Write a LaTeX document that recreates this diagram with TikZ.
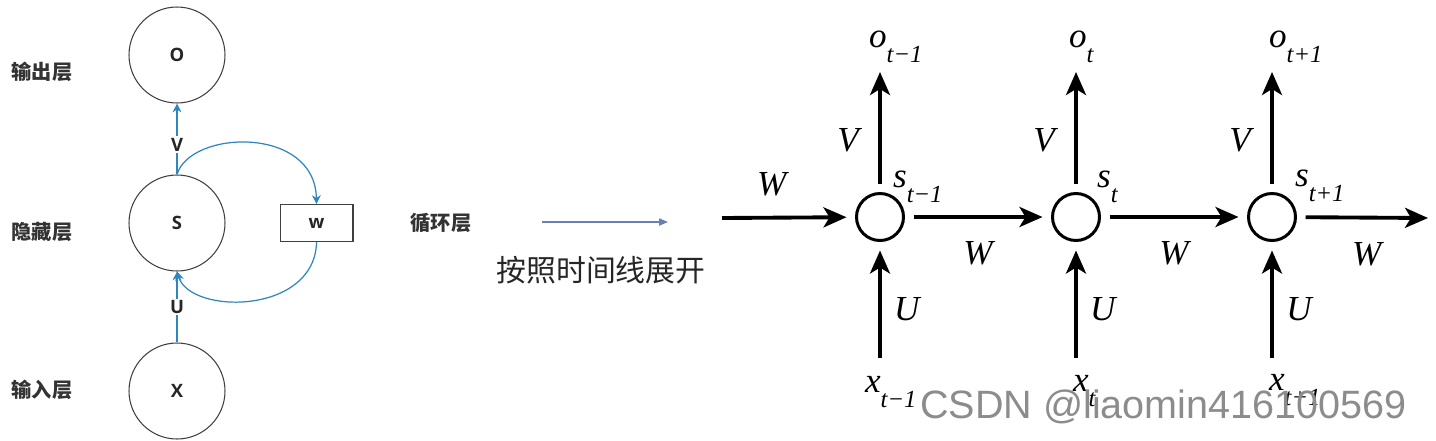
\documentclass[tikz,border=0pt]{standalone}
\usepackage{fontspec}
\setmainfont{Liberation Serif}
\newfontfamily\cjk{Noto Sans CJK SC}
\newfontfamily\lettersans{Open Sans}
\newfontfamily\markfont{Liberation Sans}
\usepackage{tikz}
\usetikzlibrary{arrows.meta, positioning}
\definecolor{loopblue}{RGB}{46,134,190}
\definecolor{unrollblue}{RGB}{105,128,182}
\newcommand{\tsub}[2]{\textit{#1}\raisebox{-9pt}{\fontsize{14}{14}\selectfont\textit{#2}}}

\begin{document}
\begin{tikzpicture}[x=0.02cm, y=-0.02cm,
  layer/.style={draw=black!75, circle, line width=0.6pt, minimum size=1.92cm, font=\lettersans\bfseries\fontsize{10.5}{12}\selectfont, text=black!85},
  tag/.style={font=\cjk\bfseries\fontsize{11.5}{13}\selectfont, text=black!80},
  link/.style={loopblue, line width=0.7pt, -{Stealth[length=5pt, width=5pt]}},
  cell/.style={draw, circle, line width=1.7pt, minimum size=0.94cm, outer sep=0.2cm},
  flow/.style={line width=2.2pt, -{Stealth[length=0.46cm, width=0.4cm, inset=0.12cm]}},
  sym/.style={font=\fontsize{20}{24}\selectfont\itshape, inner sep=1pt}]
  \useasboundingbox (0,0) rectangle (1436,440);

  \node (o) [layer] at (177,55) {O};
  \node (s) [layer] at (177,223) {S};
  \node (x) [layer] at (177,391) {X};
  \node (w) [draw=black!75, line width=0.6pt, minimum width=1.46cm, minimum height=0.74cm, font=\lettersans\bfseries\fontsize{10.5}{12}\selectfont, text=black!85, right=1.08cm of s] {w};
  \node (outtag) [tag] at (42,72) {输出层};
  \node (hidtag) [tag] at (42,232) {隐藏层};
  \node (intag) [tag] at (42,390) {输入层};

  \draw [link] (s) -- (o) node[pos=.42, fill=white, inner sep=1pt, text=black!85, font=\lettersans\bfseries\fontsize{10.5}{12}\selectfont] {V};
  \draw [link] (x) -- (s) node[pos=.5, fill=white, inner sep=1pt, text=black!85, font=\lettersans\bfseries\fontsize{10.5}{12}\selectfont] {U};
  \draw [link] (s.north) .. controls (190,130) and (315,125) .. (w.north);
  \draw [link] (w.south) .. controls (315,315) and (190,315) .. (s.south);

  \node (looptag) [tag] at (441,223) {循环层};
  \coordinate (ustart) at (542,222);
  \coordinate (uend) at (668,222);
  \draw [unrollblue, line width=0.8pt, -{Triangle[length=5pt, width=4pt]}] (ustart) -- (uend);
  \node (unroll) [font=\cjk\fontsize{17}{20}\selectfont, text=black!85] at (601,270) {按照时间线展开};

  \node (s1) [cell] at (880,217) {};
  \node (s2) [cell] at (1076,217) {};
  \node (s3) [cell] at (1272,217) {};
  \coordinate (win) at (722,218);
  \coordinate (wout) at (1428,218);
  \coordinate (ot1) at (880,72);
  \coordinate (ot2) at (1076,72);
  \coordinate (ot3) at (1272,72);
  \coordinate (xb1) at (880,358);
  \coordinate (xb2) at (1076,358);
  \coordinate (xb3) at (1272,358);

  \draw [flow] (win) -- (s1) node[sym, pos=.4, above=10pt] {W};
  \draw [flow] (s1) -- (s2) node[sym, midway, below=12pt] {W};
  \draw [flow] (s2) -- (s3) node[sym, midway, below=12pt] {W};
  \draw [flow] (s3) -- (wout) node[sym, midway, below=12pt] {W};

  \draw [flow] (s1) -- (ot1) node[sym, pos=.39, left=10pt] {V};
  \draw [flow] (s2) -- (ot2) node[sym, pos=.39, left=10pt] {V};
  \draw [flow] (s3) -- (ot3) node[sym, pos=.39, left=10pt] {V};
  \draw [flow] (xb1) -- (s1) node[sym, pos=.45, right=6pt] {U};
  \draw [flow] (xb2) -- (s2) node[sym, pos=.45, right=6pt] {U};
  \draw [flow] (xb3) -- (s3) node[sym, pos=.45, right=6pt] {U};

  \node (o1) [sym, anchor=base west] at (867,47) {\tsub{o}{t−1}};
  \node (o2) [sym, anchor=base west] at (1067,47) {\tsub{o}{t}};
  \node (o3) [sym, anchor=base west] at (1267,47) {\tsub{o}{t+1}};
  \node (s1tag) [sym, anchor=base west] at (891,187) {\tsub{s}{t−1}};
  \node (s2tag) [sym, anchor=base west] at (1095,187) {\tsub{s}{t}};
  \node (s3tag) [sym, anchor=base west] at (1293,186) {\tsub{s}{t+1}};
  \node (x1) [sym, anchor=base west] at (863,392) {\tsub{x}{t−1}};
  \node (x2) [sym, anchor=base west] at (1071,391) {\tsub{x}{t}};
  \node (x3) [sym, anchor=base west] at (1267,390) {\tsub{x}{t+1}};

  \node (mark) [font=\markfont\fontsize{22.5}{24}\selectfont, text=black!45, anchor=base west, inner sep=0pt] at (920,418) {CSDN @liaomin416100569};
\end{tikzpicture}
\end{document}
